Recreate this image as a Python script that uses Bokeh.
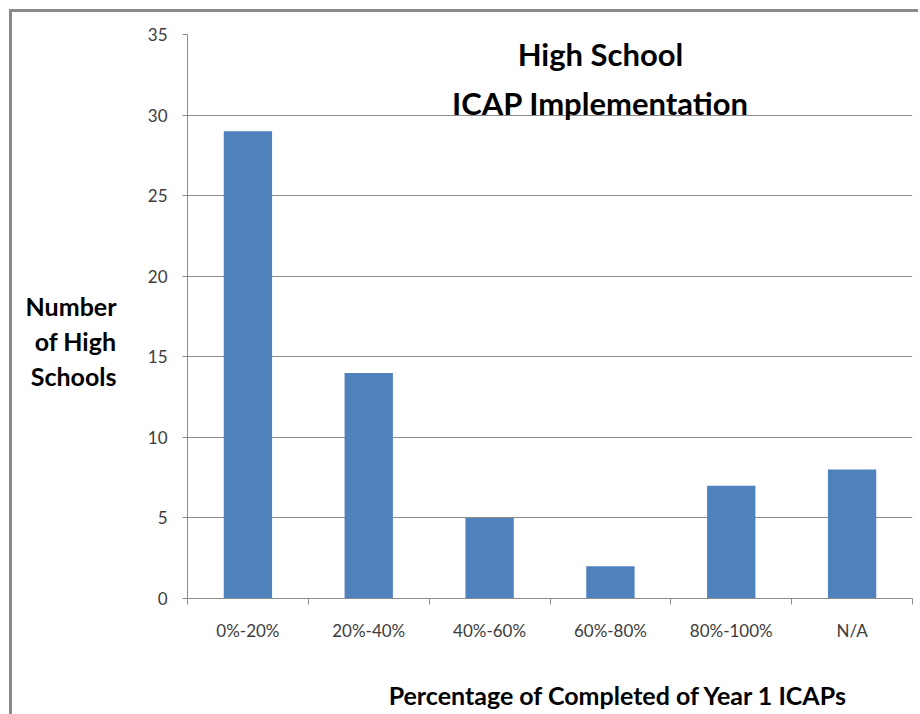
from bokeh.plotting import figure
from bokeh.models import FixedTicker, Range1d, Label, LinearAxis
from bokeh.embed import file_html
from bokeh.resources import INLINE

# ---- data ----
categories = ["0%-20%", "20%-40%", "40%-60%", "60%-80%", "80%-100%", "N/A"]
counts = [29, 14, 5, 2, 7, 8]
y_ticks = [0, 5, 10, 15, 20, 25, 30, 35]
title_lines = ["High School", "ICAP Implementation"]
y_label_lines = ["Number", "of High", "Schools"]
x_label = "Percentage of Completed of Year 1 ICAPs"

n = len(categories)
centers = [i + 0.5 for i in range(n)]
bounds = [float(i) for i in range(n + 1)]

FONT = "Lato"
GRID = "#8c8c8c"
TXT = "#3c3c3c"
BORDER = "#8a8a8a"

p = figure(
    frame_width=725, frame_height=564,
    min_border_left=187, min_border_right=6,
    min_border_top=34, min_border_bottom=116,
    x_range=Range1d(0, n), y_range=Range1d(0, 35),
    output_backend="svg", toolbar_location=None,
)
p.border_fill_color = None
p.background_fill_color = "white"
p.outline_line_color = None
p.styles = {
    "background-image": f"linear-gradient({BORDER},{BORDER}), linear-gradient({BORDER},{BORDER})",
    "background-size": "3px 100%, 100% 3px",
    "background-position": "9px 9px, 9px 9px",
    "background-repeat": "no-repeat",
}

p.vbar(x=centers, top=counts, width=0.4, fill_color="#4F81BD", line_color=None)

# x axis: labels at centres, boundary ticks as minor ticks
xa = p.xaxis[0]
xa.ticker = FixedTicker(ticks=centers, minor_ticks=bounds)
xa.major_label_overrides = {c: lab for c, lab in zip(centers, categories)}
xa.major_tick_line_color = None
xa.major_tick_out = 0
xa.major_tick_in = 0
xa.minor_tick_out = 6
xa.minor_tick_in = 0
xa.minor_tick_line_color = GRID
xa.axis_line_color = GRID
xa.major_label_text_font = FONT
xa.major_label_text_font_size = "17px"
xa.major_label_text_color = TXT
xa.major_label_standoff = 15

ya = p.yaxis[0]
ya.ticker = FixedTicker(ticks=y_ticks)
ya.minor_tick_line_color = None
ya.major_tick_out = 5
ya.major_tick_in = 0
ya.major_tick_line_color = GRID
ya.axis_line_color = GRID
ya.major_label_text_font = FONT
ya.major_label_text_font_size = "17px"
ya.major_label_text_color = TXT
ya.major_label_standoff = 15

p.xgrid.grid_line_color = None
p.ygrid.grid_line_color = GRID
p.ygrid.grid_line_width = 1

# title inside plot area
for txt, yv in zip(title_lines, [33.79, 30.75]):
    p.add_layout(Label(x=3.418, y=yv, text=txt, text_align="center",
                       text_baseline="alphabetic", text_font=FONT,
                       text_font_style="bold", text_font_size="31px",
                       text_color="black"))

# y label: horizontal three lines, drawn as an extra left axis
ylab_pos = [18.18, 16.01, 13.78]
yl = LinearAxis(ticker=FixedTicker(ticks=ylab_pos),
                major_label_overrides={v: t for v, t in zip(ylab_pos, y_label_lines)})
yl.axis_line_color = None
yl.major_tick_line_color = None
yl.minor_tick_line_color = None
yl.major_tick_out = 0
yl.major_tick_in = 0
yl.major_label_standoff = 28
yl.major_label_text_font = FONT
yl.major_label_text_font_style = "bold"
yl.major_label_text_font_size = "25px"
yl.major_label_text_color = "black"
p.add_layout(yl, "left")

# x label: extra bottom axis
xlab_pos = [3.567]
xl = LinearAxis(ticker=FixedTicker(ticks=xlab_pos),
                major_label_overrides={xlab_pos[0]: x_label})
xl.axis_line_color = None
xl.major_tick_line_color = None
xl.minor_tick_line_color = None
xl.major_tick_out = 0
xl.major_tick_in = 0
xl.major_label_standoff = 36
xl.major_label_text_font = FONT
xl.major_label_text_font_style = "bold"
xl.major_label_text_font_size = "25px"
xl.major_label_text_color = "black"
p.add_layout(xl, "below")

open("out.html", "w").write(file_html(p, INLINE))
